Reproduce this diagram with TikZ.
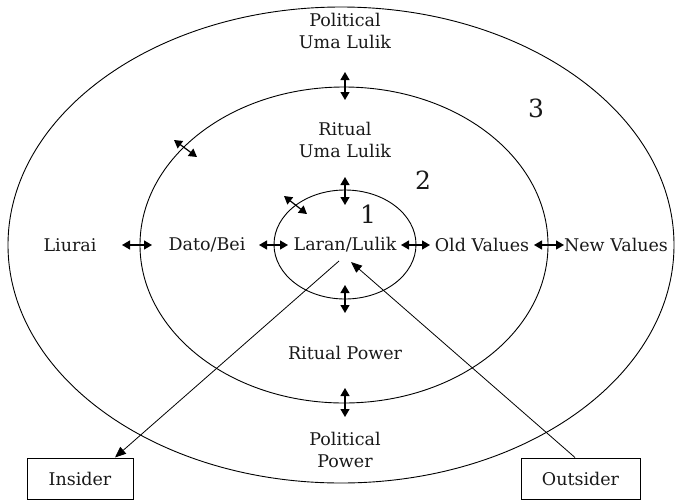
\documentclass[tikz,border=0pt]{standalone}
\usepackage{fontspec}
\setmainfont{DejaVu Serif}
\usetikzlibrary{arrows.meta}
\begin{document}
\begin{tikzpicture}[x=1pt,y=-1pt,
 lbl/.style={font=\fontsize{17.5}{22}\selectfont, align=center, inner sep=0pt, text=black!90},
 num/.style={font=\fontsize{25}{30}\selectfont, inner sep=0pt, text=black!90},
 ring/.style={draw=black, line width=0.9pt},
 dbl/.style={{Triangle[length=8pt,width=9pt]}-{Triangle[length=8pt,width=9pt]}, line width=1.2pt},
 boxed/.style={draw, line width=0.8pt, font=\fontsize{17.5}{22}\selectfont, text=black!90, inner sep=0pt},
 ptr/.style={-{Triangle[length=11pt,width=9pt]}, line width=0.8pt}]
\useasboundingbox (0,0) rectangle (675,499);
% rings
\draw[ring] (341,245) ellipse [x radius=333pt, y radius=238pt];
\draw[ring] (344,245) ellipse [x radius=204pt, y radius=158pt];
\draw[ring] (345,244.5) ellipse [x radius=71pt, y radius=54.5pt];
% labels
\node[lbl] (polUL) at (345,31) {Political\\Uma Lulik};
\node[lbl] (ritUL) at (345,140) {Ritual\\Uma Lulik};
\node[lbl] (liurai) at (70,245) {Liurai};
\node[lbl] (dato) at (207,245) {Dato/Bei};
\node[lbl] (laran) at (345,245) {Laran/Lulik};
\node[lbl] (old) at (482,245) {Old Values};
\node[lbl] (new) at (616,245) {New Values};
\node[lbl] (ritpow) at (345,353) {Ritual Power};
\node[lbl] (polpow) at (345,450) {Political\\Power};
\node[num] (n1) at (368,214) {1};
\node[num] (n2) at (423,180) {2};
\node[num] (n3) at (536,108) {3};
% boxes
\node[boxed, minimum width=106pt, minimum height=41pt] (insider) at (80,478.5) {Insider};
\node[boxed, minimum width=119pt, minimum height=41pt] (outsider) at (580.5,478.5) {Outsider};
% arrow end points
\coordinate (a1) at (345,72);  \coordinate (b1) at (345,100);
\coordinate (a2) at (345,177); \coordinate (b2) at (345,205);
\coordinate (a3) at (345,285); \coordinate (b3) at (345,313);
\coordinate (a4) at (345,388); \coordinate (b4) at (345,417);
\coordinate (h1) at (122,245); \coordinate (k1) at (152,245);
\coordinate (h2) at (259,245); \coordinate (k2) at (288,245);
\coordinate (h3) at (401,245); \coordinate (k3) at (430,245);
\coordinate (h4) at (534,245); \coordinate (k4) at (564,245);
\coordinate (d1) at (174,140); \coordinate (e1) at (197,157);
\coordinate (d2) at (284,196); \coordinate (e2) at (307,214);
\draw[dbl] (a1) -- (b1);
\draw[dbl] (a2) -- (b2);
\draw[dbl] (a3) -- (b3);
\draw[dbl] (a4) -- (b4);
\draw[dbl] (h1) -- (k1);
\draw[dbl] (h2) -- (k2);
\draw[dbl] (h3) -- (k3);
\draw[dbl] (h4) -- (k4);
\draw[dbl] (d1) -- (e1);
\draw[dbl] (d2) -- (e2);
% pointers
\coordinate (inS) at (339,261);
\coordinate (inE) at (115,457.5);
\coordinate (outS) at (575,457.5);
\coordinate (outE) at (351,262);
\draw[ptr] (inS) -- (inE);
\draw[ptr] (outS) -- (outE);
\end{tikzpicture}
\end{document}
